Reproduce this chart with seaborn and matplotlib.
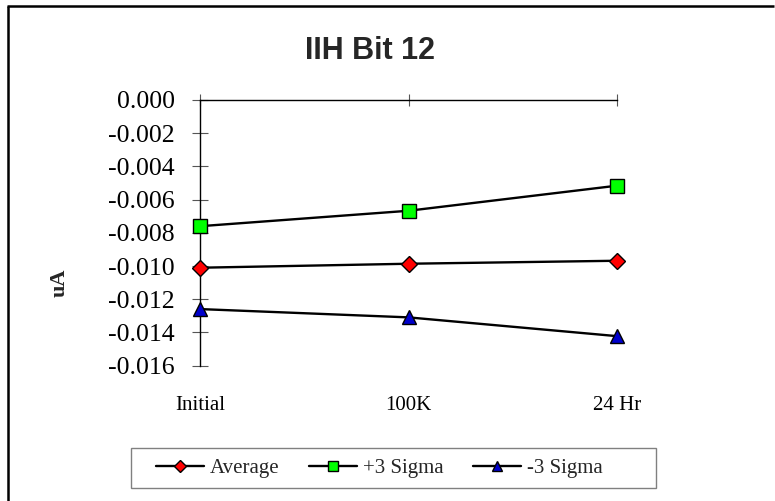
import numpy as np
import pandas as pd
import matplotlib
matplotlib.use("Agg")
import matplotlib.pyplot as plt
from matplotlib.lines import Line2D
from matplotlib.patches import Rectangle
import seaborn as sns

# Measurement stages and current readings (uA)
stages = ["Initial", "100K", "24 Hr"]
average = [-0.0101, -0.00986, -0.00968]
plus_3_sigma = [-0.0076, -0.00667, -0.00516]
minus_3_sigma = [-0.01259, -0.01309, -0.01422]
y_ticks = [0.000, -0.002, -0.004, -0.006, -0.008, -0.010, -0.012, -0.014, -0.016]

series_names = ["Average", "+3 Sigma", "-3 Sigma"]
series_values = [average, plus_3_sigma, minus_3_sigma]
face_colors = ["#FF0000", "#00FF00", "#0000CC"]
marker_shapes = ["D", "s", "^"]
marker_sizes = [8.5, 9.5, 10.5]

rows = []
for name, vals in zip(series_names, series_values):
    for i, v in enumerate(vals):
        rows.append({"stage_idx": i, "stage": stages[i], "value": v, "series": name})
df = pd.DataFrame(rows)

sns.set_theme(style="white")
plt.rcParams["font.family"] = ["Liberation Serif", "DejaVu Serif"]

W, H = 775, 501
fig = plt.figure(figsize=(W / 100, H / 100), dpi=100)
fig.patch.set_edgecolor("white")
fig.patch.set_linewidth(0)
ax = fig.add_axes([200 / W, 1 - 365.7 / H, 417 / W, 265.7 / H])

for name, fc, mk, ms in zip(series_names, face_colors, marker_shapes, marker_sizes):
    sub = df[df["series"] == name]
    sns.lineplot(data=sub, x="stage_idx", y="value", ax=ax, color="black",
                 linewidth=1.7, marker=mk, markersize=ms, markerfacecolor=fc,
                 markeredgecolor="black", markeredgewidth=1.0, label=name,
                 legend=False, clip_on=False, zorder=3)

ax.set_xlim(0, 2)
ax.set_ylim(-0.016, 0.0)
ax.set_xticks(range(len(stages)))
ax.set_xticklabels(stages, fontsize=15)
ax.set_yticks(y_ticks)
ax.set_yticklabels([f"{t:.3f}" for t in y_ticks], fontsize=18.5)
ax.set_xlabel("")
ax.set_ylabel("")

for side in ["bottom", "right"]:
    ax.spines[side].set_visible(False)
for side in ["top", "left"]:
    ax.spines[side].set_visible(True)
    ax.spines[side].set_color("black")
    ax.spines[side].set_linewidth(1.0)

ax.tick_params(axis="y", left=True, right=False, direction="inout", length=12,
               width=0.8, color="#555555", pad=12, labelcolor="black")
ax.tick_params(axis="x", bottom=True, top=True, labelbottom=True, labeltop=False,
               direction="inout", length=9, width=0.8, color="#555555", pad=17,
               labelcolor="black")
for t in ax.xaxis.get_major_ticks():
    t.tick1line.set_visible(False)
ax.grid(False)
ax.set_facecolor("white")

# Axis title and chart title
fig.text(60 / W, 1 - 283 / H, "uA", rotation=90, ha="center", va="center",
         fontsize=16, fontweight="bold")
fig.text(370 / W, 1 - 51 / H, "IIH Bit 12", ha="center", va="center",
         fontsize=22, fontweight="bold", family=["Liberation Sans", "DejaVu Sans"])

# Legend box with the entries laid out inside it
fig.add_artist(Rectangle((131 / W, 1 - 488 / H), 525 / W, 40 / H,
                         transform=fig.transFigure, facecolor="white",
                         edgecolor="#808080", linewidth=1.0, zorder=1))
handles, labels = ax.get_legend_handles_labels()
leg = fig.legend(handles, labels, loc="center", bbox_to_anchor=(379.5 / W, 1 - 468 / H),
                 ncol=3, fontsize=15, frameon=False, borderpad=0.2,
                 handlelength=2.3, handletextpad=0.3, columnspacing=1.4,
                 markerscale=0.75)
leg.set_zorder(2)

# Outer chart frame along the left and top edges
fig.add_artist(Line2D([8 / W, 8 / W], [0, 1 - 6 / H], transform=fig.transFigure,
                      color="black", linewidth=1.8, solid_capstyle="butt"))
fig.add_artist(Line2D([7 / W, 0.999], [1 - 6 / H, 1 - 6 / H], transform=fig.transFigure,
                      color="black", linewidth=1.8, solid_capstyle="butt"))

fig.savefig("out.png", dpi=100)
